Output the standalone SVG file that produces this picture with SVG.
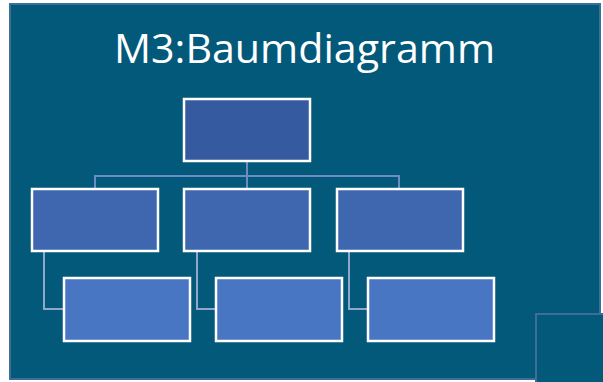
<svg xmlns="http://www.w3.org/2000/svg" width="603" height="382" viewBox="0 0 603 382">
<style>
.bg{fill:#02597A;stroke:#3D6E98;stroke-width:2}
.box{stroke:#FFFFFF;stroke-width:2.5}
.l1{fill:#355A9F}
.l2{fill:#3E67B0}
.l3{fill:#4876C3}
.c1{fill:none;stroke:#6E8BC8;stroke-width:2}
.c2{fill:none;stroke:#93A6CE;stroke-width:2}
.title{font-family:"Open Sans","Liberation Sans",sans-serif;font-size:40px;fill:#FFFFFF}
</style>
<rect x="0" y="0" width="603" height="382" fill="#FFFFFF"/>
<rect class="bg" x="10" y="4" width="590" height="375"/>
<rect class="bg" x="536" y="314" width="70" height="70"/>
<text class="title" x="304.5" y="63" text-anchor="middle" textLength="381" lengthAdjust="spacingAndGlyphs">M3:Baumdiagramm</text>
<g id="connectors">
<path class="c1" d="M247 162V188M95 188V176H399V188"/>
<path class="c2" d="M44 252V309H63"/>
<path class="c2" d="M197 252V309H215"/>
<path class="c2" d="M349 252V309H367"/>
</g>
<g id="root"><rect class="box l1" x="184" y="99" width="126" height="62"/></g>
<g id="mid-left"><rect class="box l2" x="32" y="189" width="126" height="62"/></g>
<g id="mid-center"><rect class="box l2" x="184" y="189" width="126" height="62"/></g>
<g id="mid-right"><rect class="box l2" x="337" y="189" width="126" height="62"/></g>
<g id="leaf-left"><rect class="box l3" x="64" y="278" width="126" height="63"/></g>
<g id="leaf-center"><rect class="box l3" x="216" y="278" width="126" height="63"/></g>
<g id="leaf-right"><rect class="box l3" x="368" y="278" width="126" height="63"/></g>
</svg>
